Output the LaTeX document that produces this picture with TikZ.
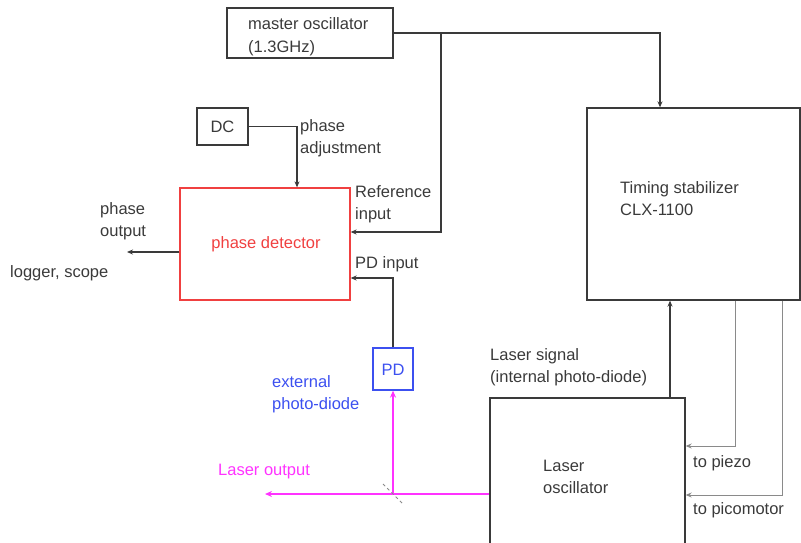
\documentclass[tikz,border=0pt]{standalone}
\usepackage{fontspec}
\setmainfont{Liberation Sans}
\usetikzlibrary{arrows.meta}
\definecolor{ink}{HTML}{3A3A3A}
\definecolor{lgray}{HTML}{8A8A8A}
\definecolor{pdred}{HTML}{F04040}
\definecolor{pdblue}{HTML}{3C50F0}
\definecolor{laser}{HTML}{FF33FF}
\begin{document}
\begin{tikzpicture}[x=1pt,y=-1pt,
  box/.style={draw=ink,line width=1.3pt,inner sep=0pt},
  lbl/.style={text=ink,font=\fontsize{16.5}{22}\selectfont,inner sep=0pt,align=left},
  wire/.style={draw=ink,line width=1.2pt,-{Stealth[length=6pt,width=5pt]}},
  thin/.style={draw=lgray,line width=1pt,-{Stealth[length=6pt,width=5pt]}},
  beam/.style={draw=laser,line width=1.4pt,-{Stealth[length=7pt,width=6pt]}}]
\useasboundingbox (0,0) rectangle (801,543);
\clip (0,0) rectangle (801,543);
% boxes
\node[box,minimum width=166pt,minimum height=50pt] (mo) at (310,33) {};
\node[box,minimum width=51pt,minimum height=37pt] (dc) at (222.5,126.5) {};
\node[box,draw=pdred,minimum width=170pt,minimum height=112pt] (pd) at (265,244) {};
\node[box,draw=pdblue,minimum width=40pt,minimum height=42pt] (ext) at (393,369) {};
\node[box,minimum width=213pt,minimum height=192pt] (ts) at (693.5,204) {};
\node[box,minimum width=195pt,minimum height=170pt] (lo) at (587.5,483) {};
% texts (anchor base = baseline of last line)
\node[lbl,anchor=base west] (t1) at (248,30) {master oscillator};
\node[lbl,anchor=base west] (t2) at (248,53) {(1.3GHz)};
\node[lbl,anchor=base] (t3) at (222.5,132) {DC};
\node[lbl,anchor=base west] (t4) at (300,153) {phase\\adjustment};
\node[lbl,anchor=base,text=pdred] (t5) at (266,248) {phase detector};
\node[lbl,anchor=base west] (t6) at (355,219) {Reference\\input};
\node[lbl,anchor=base west] (t7) at (355,268) {PD input};
\node[lbl,anchor=base west] (t8) at (100,236) {phase\\output};
\node[lbl,anchor=base west] (t9) at (10,277) {logger, scope};
\node[lbl,anchor=base,text=pdblue] (t10) at (393,375) {PD};
\node[lbl,anchor=base west,text=pdblue] (t11) at (272,409) {external\\photo-diode};
\node[lbl,anchor=base west,text=laser] (t12) at (218,475) {Laser output};
\node[lbl,anchor=base west] (t13) at (490,382) {Laser signal\\(internal photo-diode)};
\node[lbl,anchor=base west] (t14) at (620,215) {Timing stabilizer\\CLX-1100};
\node[lbl,anchor=base west] (t15) at (543,493) {Laser\\oscillator};
\node[lbl,anchor=base west] (t16) at (693,467) {to piezo};
\node[lbl,anchor=base west] (t17) at (693,514) {to picomotor};
% connectors
\coordinate (j) at (441,33);
\draw[wire] (mo.east) -- (660,33) -- (ts.north -| 660,0);
\draw[wire] (j) -- (441,232) -- (pd.east |- 0,232);
\draw[wire] (dc.east) -- (297,126.5) -- (pd.north -| 297,0);
\draw[wire] (pd.west |- 0,252) -- (127,252);
\draw[wire] (ext.north) -- (393,278) -- (pd.east |- 0,278);
\draw[wire] (lo.north -| 670,0) -- (ts.south -| 670,0);
\draw[thin] (ts.south -| 735,0) -- (735,446) -- (lo.east |- 0,446);
\draw[thin] (ts.south -| 782,0) -- (782,495) -- (lo.east |- 0,495);
\coordinate (bs) at (393,494);
\draw[beam] (lo.west |- 0,494) -- (265,494);
\draw[beam] (bs) -- (ext.south);
\draw[lgray,line width=0.8pt,dash pattern=on 3pt off 3pt] (383,484) -- (403,504);
\end{tikzpicture}
\end{document}
